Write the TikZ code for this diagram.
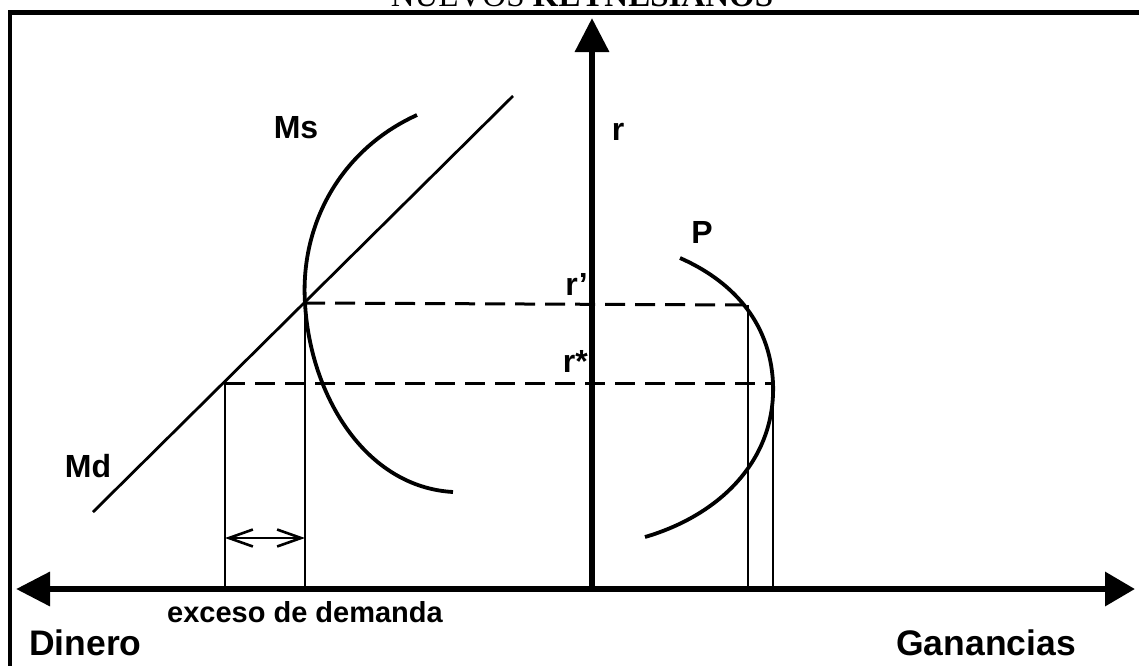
\documentclass[tikz,border=0pt]{standalone}
\usepackage{fontspec}
\setmainfont{Liberation Sans}
\newfontfamily\titlefont{Liberation Serif}
\usetikzlibrary{arrows.meta}
\tikzset{
  tip/.style={},
  axis/.style={line width=6.5pt},
  curve/.style={line width=3.8pt},
  mdline/.style={line width=2.8pt},
  guide/.style={line width=3pt,dash pattern=on 20pt off 10pt},
  thin/.style={line width=1.6pt},
  lbl/.style={font=\fontsize{32}{36}\selectfont\bfseries,inner sep=0pt},
  big/.style={font=\fontsize{35.5}{40}\selectfont\bfseries,inner sep=0pt},
  small/.style={font=\fontsize{29}{33}\selectfont\bfseries,inner sep=0pt},
}
\begin{document}
\begin{tikzpicture}[x=1pt,y=-1pt]
\useasboundingbox (0,0) rectangle (1139,665);
% frame
\draw[line width=4.5pt] (10,700) -- (10,12.5) -- (1160,12.5);
% title
\node[anchor=base,inner sep=0pt,font=\titlefont\fontsize{33}{38}\selectfont] (title) at (582,6) {NUEVOS \textbf{KEYNESIANOS}};
% axes
\coordinate (O) at (592,589);
\coordinate (ytop) at (592,18);
\coordinate (xl) at (16,589);
\coordinate (xr) at (1135,589);
\draw[axis,-{Triangle[length=34pt,width=33pt]}] (O) -- (ytop);
\draw[axis,{Triangle[length=34pt,width=33pt]}-{Triangle[length=30pt,width=33pt]}] (xl) -- (xr);
% Md line
\coordinate (md1) at (93,512);
\coordinate (md2) at (513,96);
\draw[mdline] (md1) -- (md2);
% Ms curve
\coordinate (ms1) at (417,115);
\coordinate (E) at (305,303);
\coordinate (ms2) at (453,492);
\draw[curve] (ms1) .. controls (340,150) and (300,225) .. (E) .. controls (310,395) and (365,487) .. (ms2);
% P curve
\coordinate (p1) at (680,258);
\coordinate (Pr) at (773,383);
\coordinate (p2) at (645,537);
\draw[curve] (p1) .. controls (730,280) and (770,320) .. (Pr) .. controls (776,460) and (720,515) .. (p2);
% dashed levels
\coordinate (A) at (225,383);
\coordinate (Pa) at (748,305);
\draw[guide] (E) -- (Pa);
\draw[guide] (A) -- (Pr);
% vertical guides
\coordinate (Ab) at (225,589);
\coordinate (Eb) at (305,589);
\coordinate (Pab) at (748,589);
\coordinate (Prb) at (773,589);
\draw[thin] (A) -- (Ab);
\draw[thin] (E) -- (Eb);
\draw[thin] (Pa) -- (Pab);
\draw[thin] (Pr) -- (Prb);
% excess demand arrow
\coordinate (ex1) at (225,538);
\coordinate (ex2) at (305,538);
\draw[line width=2.6pt,{Straight Barb[length=24pt,width=17pt]}-{Straight Barb[length=24pt,width=17pt]}] (ex1) -- (ex2);
% labels
\node[lbl,anchor=base] (Ms) at (296,138) {Ms};
\node[lbl,anchor=base] (r) at (618,140) {r};
\node[lbl,anchor=base] (P) at (702,243) {P};
\node[lbl,anchor=base east] (rp) at (588,295) {r’};
\node[lbl,anchor=base east] (rs) at (588,372) {r*};
\node[lbl,anchor=base] (Md) at (88,477) {Md};
\node[small,anchor=base] (exc) at (305,622) {exceso de demanda};
\node[big,anchor=base west] (din) at (29,655) {Dinero};
\node[big,anchor=base east] (gan) at (1076,655) {Ganancias};
\end{tikzpicture}
\end{document}
